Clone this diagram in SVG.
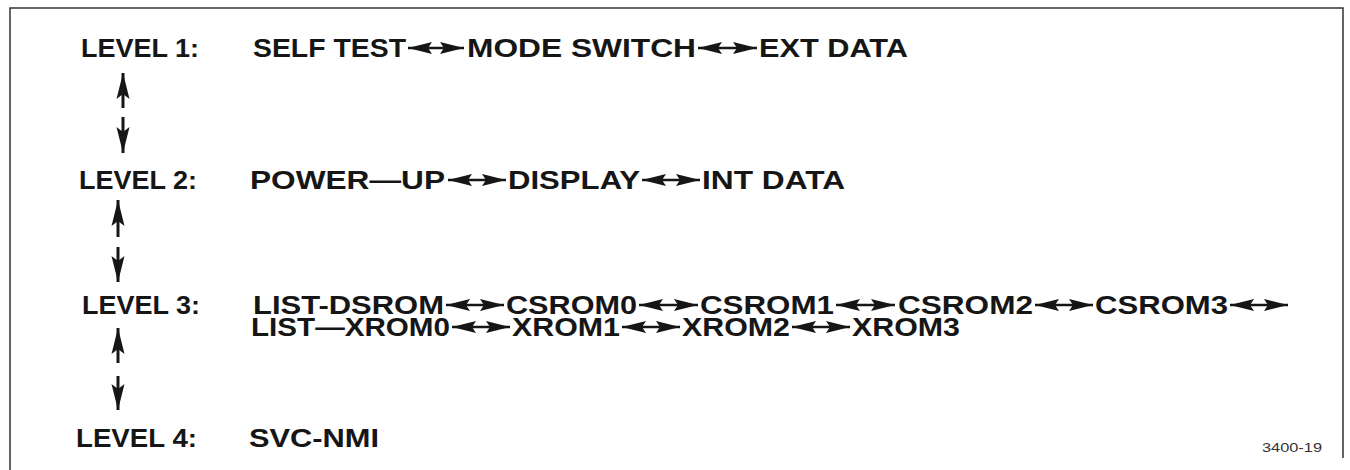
<svg xmlns="http://www.w3.org/2000/svg" width="1350" height="470" viewBox="0 0 1350 470">
<style>
.t{font-family:"Liberation Sans",Arial,Helvetica,sans-serif;font-size:26px;font-weight:bold;fill:#161616}
.s{font-family:"Liberation Sans",Arial,Helvetica,sans-serif;font-size:13px;fill:#333}
.h{stroke:#161616;stroke-width:2.4;fill:none;marker-start:url(#ah);marker-end:url(#ah)}
.v{stroke:#161616;stroke-width:3;fill:none;marker-end:url(#av)}
.b{stroke:#333;stroke-width:1.5;fill:none}
</style>
<defs>
<marker id="ah" markerUnits="userSpaceOnUse" markerWidth="26" markerHeight="14" refX="24" refY="7" orient="auto-start-reverse" viewBox="0 0 26 14">
<path d="M0,1 L24,7 L0,13 L4,7 Z" fill="#161616"/>
</marker>
<marker id="av" markerUnits="userSpaceOnUse" markerWidth="28" markerHeight="14" refX="26" refY="7" orient="auto" viewBox="0 0 28 14">
<path d="M0,0.5 L26,7 L0,13.5 L5,7 Z" fill="#161616"/>
</marker>
</defs>
<rect width="1350" height="470" fill="#fff"/>
<g id="frame">
<path class="b" d="M10,470 L10,8 L1343,8 L1343,458"/>
</g>
<g id="connectors">
<line class="h" x1="408" y1="48" x2="464" y2="48"/>
<line class="h" x1="698" y1="48" x2="757" y2="48"/>
<line class="h" x1="448" y1="180" x2="506" y2="180"/>
<line class="h" x1="642" y1="180" x2="700" y2="180"/>
<line class="h" x1="446" y1="305" x2="504" y2="305"/>
<line class="h" x1="639" y1="305" x2="698" y2="305"/>
<line class="h" x1="836" y1="305" x2="895" y2="305"/>
<line class="h" x1="1035" y1="305" x2="1093" y2="305"/>
<line class="h" x1="1230" y1="305" x2="1288" y2="305"/>
<line class="h" x1="452" y1="327" x2="510" y2="327"/>
<line class="h" x1="622" y1="327" x2="680" y2="327"/>
<line class="h" x1="792" y1="327" x2="850" y2="327"/>
<line class="v" x1="123" y1="108" x2="123" y2="73"/>
<line class="v" x1="123" y1="117" x2="123" y2="153"/>
<line class="v" x1="118" y1="237" x2="118" y2="200"/>
<line class="v" x1="118" y1="247" x2="118" y2="282"/>
<line class="v" x1="118" y1="363" x2="118" y2="328"/>
<line class="v" x1="118" y1="376" x2="118" y2="410"/>
</g>
<g id="level1"><text class="t" x="81" y="57" textLength="118" lengthAdjust="spacingAndGlyphs">LEVEL 1:</text></g>
<g id="self-test"><text class="t" x="253" y="57" textLength="153" lengthAdjust="spacingAndGlyphs">SELF TEST</text></g>
<g id="mode-switch"><text class="t" x="467" y="57" textLength="229" lengthAdjust="spacingAndGlyphs">MODE SWITCH</text></g>
<g id="ext-data"><text class="t" x="759" y="57" textLength="149" lengthAdjust="spacingAndGlyphs">EXT DATA</text></g>
<g id="level2"><text class="t" x="79" y="189" textLength="118" lengthAdjust="spacingAndGlyphs">LEVEL 2:</text></g>
<g id="power-up"><text class="t" x="250" y="189" textLength="195" lengthAdjust="spacingAndGlyphs">POWER—UP</text></g>
<g id="display"><text class="t" x="508" y="189" textLength="132" lengthAdjust="spacingAndGlyphs">DISPLAY</text></g>
<g id="int-data"><text class="t" x="702" y="189" textLength="143" lengthAdjust="spacingAndGlyphs">INT DATA</text></g>
<g id="level3"><text class="t" x="82" y="314" textLength="118" lengthAdjust="spacingAndGlyphs">LEVEL 3:</text></g>
<g id="list-dsrom"><text class="t" x="253" y="314" textLength="191" lengthAdjust="spacingAndGlyphs">LIST-DSROM</text></g>
<g id="csrom0"><text class="t" x="506" y="314" textLength="131" lengthAdjust="spacingAndGlyphs">CSROM0</text></g>
<g id="csrom1"><text class="t" x="700" y="314" textLength="134" lengthAdjust="spacingAndGlyphs">CSROM1</text></g>
<g id="csrom2"><text class="t" x="898" y="314" textLength="135" lengthAdjust="spacingAndGlyphs">CSROM2</text></g>
<g id="csrom3"><text class="t" x="1095" y="314" textLength="133" lengthAdjust="spacingAndGlyphs">CSROM3</text></g>
<g id="list-xrom0"><text class="t" x="251" y="336" textLength="199" lengthAdjust="spacingAndGlyphs">LIST—XROM0</text></g>
<g id="xrom1"><text class="t" x="512" y="336" textLength="108" lengthAdjust="spacingAndGlyphs">XROM1</text></g>
<g id="xrom2"><text class="t" x="682" y="336" textLength="108" lengthAdjust="spacingAndGlyphs">XROM2</text></g>
<g id="xrom3"><text class="t" x="852" y="336" textLength="108" lengthAdjust="spacingAndGlyphs">XROM3</text></g>
<g id="level4"><text class="t" x="76" y="447" textLength="121" lengthAdjust="spacingAndGlyphs">LEVEL 4:</text></g>
<g id="svc-nmi"><text class="t" x="249" y="447" textLength="130" lengthAdjust="spacingAndGlyphs">SVC-NMI</text></g>
<text class="s" x="1262" y="452" textLength="60" lengthAdjust="spacingAndGlyphs">3400-19</text>
</svg>
